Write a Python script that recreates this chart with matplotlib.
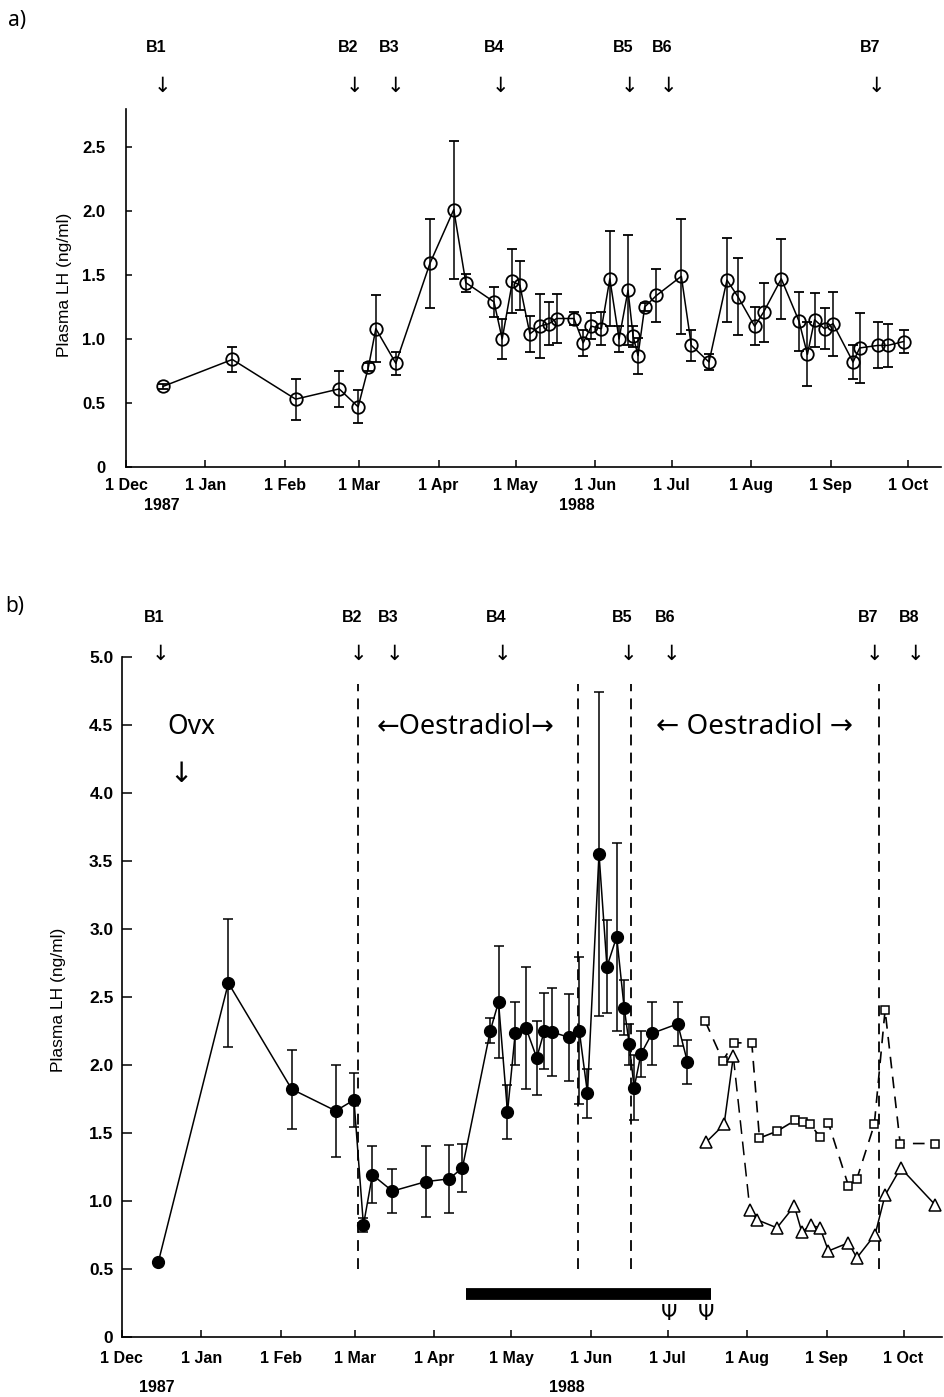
import matplotlib
matplotlib.use("Agg")
import matplotlib.pyplot as plt

# x values are days counted from 1 Dec 1987
month_days = [0, 31, 62, 91, 122, 152, 183, 213, 244, 275, 305]
month_labels = ["1 Dec", "1 Jan", "1 Feb", "1 Mar", "1 Apr", "1 May",
                "1 Jun", "1 Jul", "1 Aug", "1 Sep", "1 Oct"]

# (a) intact ewes, mean +/- sem
a_day = [14.5, 41.5, 66.2, 83.2, 90.6, 94.6, 97.5, 105.3, 118.6, 127.9, 132.6,
         143.6, 146.8, 150.8, 153.7, 157.6, 161.5, 165.1, 168.0, 174.8, 178.4,
         181.6, 185.5, 188.8, 192.4, 195.9, 197.9, 199.8, 202.4, 207.0, 216.7,
         220.6, 227.5, 234.5, 238.8, 245.3, 248.8, 255.7, 262.6, 265.9, 268.7,
         272.6, 275.9, 283.7, 286.3, 293.4, 297.3, 303.4]
a_lh = [0.63, 0.84, 0.53, 0.61, 0.47, 0.78, 1.08, 0.81, 1.59, 2.01, 1.44,
        1.29, 1.00, 1.45, 1.42, 1.04, 1.10, 1.12, 1.16, 1.16, 0.97,
        1.10, 1.08, 1.47, 1.00, 1.38, 1.02, 0.87, 1.25, 1.34, 1.49,
        0.95, 0.82, 1.46, 1.33, 1.10, 1.21, 1.47, 1.14, 0.88, 1.15,
        1.08, 1.12, 0.82, 0.93, 0.95, 0.95, 0.98]
a_sem = [0.02, 0.10, 0.16, 0.14, 0.13, 0.03, 0.26, 0.09, 0.35, 0.54, 0.07,
         0.12, 0.16, 0.25, 0.19, 0.14, 0.25, 0.17, 0.19, 0.05, 0.10,
         0.10, 0.13, 0.37, 0.10, 0.43, 0.08, 0.14, 0.03, 0.21, 0.45,
         0.12, 0.06, 0.33, 0.30, 0.15, 0.23, 0.31, 0.23, 0.25, 0.21,
         0.16, 0.25, 0.13, 0.27, 0.18, 0.17, 0.09]
a_bleed_days = [14.4, 89.3, 105.3, 146.2, 196.5, 211.8, 292.9]
a_bleed_names = ["B1", "B2", "B3", "B4", "B5", "B6", "B7"]

# (b) ovariectomised ewes, mean +/- sem
b_day = [14.3, 41.6, 66.3, 83.5, 90.6, 94.3, 97.8, 105.6, 118.7, 127.7, 132.9,
         143.8, 147.0, 150.5, 153.5, 157.7, 161.9, 164.9, 167.8, 174.6, 178.5,
         181.7, 186.2, 189.3, 193.1, 196.0, 198.0, 199.9, 202.6, 206.9, 216.9,
         220.7]
b_lh = [0.55, 2.60, 1.82, 1.66, 1.74, 0.82, 1.19, 1.07, 1.14, 1.16, 1.24,
        2.25, 2.46, 1.65, 2.23, 2.27, 2.05, 2.25, 2.24, 2.20, 2.25,
        1.79, 3.55, 2.72, 2.94, 2.42, 2.15, 1.83, 2.08, 2.23, 2.30,
        2.02]
b_sem = [0.0, 0.47, 0.29, 0.34, 0.20, 0.05, 0.21, 0.16, 0.26, 0.25, 0.18,
         0.09, 0.41, 0.20, 0.23, 0.45, 0.27, 0.28, 0.32, 0.32, 0.54,
         0.18, 1.19, 0.34, 0.69, 0.20, 0.15, 0.24, 0.17, 0.23, 0.16,
         0.16]

# individual animals after treatment
sq_day = [227.6, 234.5, 238.9, 245.8, 248.8, 255.6, 262.7, 265.7, 268.6,
          272.4, 275.7, 283.5, 286.8, 293.6, 297.8, 303.7, 317.3]
sq_lh = [2.32, 2.03, 2.16, 2.16, 1.46, 1.51, 1.59, 1.58, 1.56,
         1.47, 1.57, 1.11, 1.16, 1.56, 2.40, 1.42, 1.42]
tri_day = [228.0, 235.0, 238.6, 245.1, 247.8, 255.6, 262.4, 265.3, 268.9,
           272.4, 275.7, 283.5, 286.8, 293.9, 297.8, 303.9, 317.3]
tri_lh = [1.43, 1.56, 2.06, 0.93, 0.86, 0.80, 0.96, 0.77, 0.82,
          0.80, 0.63, 0.69, 0.58, 0.75, 1.04, 1.24, 0.97]

b_bleed_days = [15.3, 92.3, 106.3, 148.6, 197.7, 214.6, 293.6, 309.5]
b_bleed_names = ["B1", "B2", "B3", "B4", "B5", "B6", "B7", "B8"]
implant_days = [92.3, 178.1, 198.6, 295.5]
treatment_span = [134.2, 229.8]
psi_days = [213.3, 227.9]

TICK_FONT = ["Liberation Sans", "DejaVu Sans"]
NOTE_FONT = ["Noto Sans", "DejaVu Sans"]


def style_axis(ax, xmax, ymax, yticks, ytick_labels, xpad, ypad, ylen, ysize):
    ax.set_xlim(0, xmax)
    ax.set_ylim(0, ymax)
    for side in ("top", "right"):
        ax.spines[side].set_visible(False)
    for side in ("left", "bottom"):
        ax.spines[side].set_linewidth(1.2)
    ax.set_xticks(month_days)
    ax.set_xticklabels(month_labels, family=TICK_FONT, fontsize=11.5,
                       fontweight="bold")
    ax.set_yticks(yticks)
    ax.set_yticklabels(ytick_labels, family=TICK_FONT, fontsize=ysize,
                       fontweight="bold")
    ax.tick_params(axis="x", direction="in", length=5, width=1.1, pad=xpad)
    ax.tick_params(axis="y", direction="in", length=ylen, width=1.1, pad=ypad)
    ax.set_ylabel("Plasma LH (ng/ml)", family=TICK_FONT, fontsize=12.5)


def bleed_marks(ax, days, names, y_label, y_arrow):
    for d, name in zip(days, names):
        ax.text(d - 2.5, y_label, name, family=TICK_FONT, fontsize=11.5,
                fontweight="bold", ha="center", va="center", clip_on=False)
        ax.text(d, y_arrow, "\u2193", family=["DejaVu Sans"], fontsize=15,
                ha="center", va="center", clip_on=False)


def year_labels(ax, xs, y):
    xt = ax.get_xaxis_transform()
    for x, label in zip(xs, ["1987", "1988"]):
        ax.text(x, y, label, transform=xt, family=TICK_FONT, fontsize=11.5,
                fontweight="bold", ha="center", va="center")


fig = plt.figure(figsize=(9.45, 13.97), dpi=100)

# ---- panel a ----
ax_a = fig.add_axes([0.1333, 0.6657, 0.8624, 0.2566])
style_axis(ax_a, 318, 2.8, [0, 0.5, 1.0, 1.5, 2.0, 2.5],
           ["0", "0.5", "1.0", "1.5", "2.0", "2.5"],
           xpad=8, ypad=15, ylen=4, ysize=12)
ax_a.errorbar(a_day, a_lh, yerr=a_sem, fmt="-o", color="black", lw=1.1,
              ms=9, mfc="none", mew=1.3, ecolor="black", elinewidth=1.1,
              capsize=3.5, capthick=1.1)
ax_a.yaxis.set_label_coords(-0.066, 0.508)
bleed_marks(ax_a, a_bleed_days, a_bleed_names, 3.28, 2.98)
year_labels(ax_a, [14, 176], -0.106)
fig.text(0.008, 0.985, "a)", family=NOTE_FONT, fontsize=15, va="center")

# ---- panel b ----
ax_b = fig.add_axes([0.1288, 0.0432, 0.868, 0.4868])
yt = [0, 0.5, 1.0, 1.5, 2.0, 2.5, 3.0, 3.5, 4.0, 4.5, 5.0]
style_axis(ax_b, 320, 5.0, yt, ["0"] + [f"{v:.1f}" for v in yt[1:]],
           xpad=10, ypad=6, ylen=7, ysize=12.5)
ax_b.yaxis.set_label_coords(-0.068, 0.495)

ax_b.vlines(implant_days, 0.5, 4.8, colors="black", linestyles=(0, (6, 4)),
            lw=1.3)
ax_b.errorbar(b_day, b_lh, yerr=b_sem, fmt="-o", color="black", lw=1.1,
              ms=8.5, mfc="black", ecolor="black", elinewidth=1.1,
              capsize=3.5, capthick=1.1, zorder=3)

ax_b.plot(sq_day, sq_lh, color="black", lw=1.2, ls=(0, (7, 5)),
          marker="s", ms=5.5, mfc="white", mew=1.1)
ax_b.plot(tri_day[:3], tri_lh[:3], color="black", lw=1.1)
ax_b.plot(tri_day[2:4], tri_lh[2:4], color="black", lw=1.1, ls=(0, (9, 5)))
ax_b.plot(tri_day[3:], tri_lh[3:], color="black", lw=1.1)
ax_b.plot(tri_day, tri_lh, ls="none", marker="^", ms=8.5, mfc="white",
          mec="black", mew=1.1, zorder=4)

# treatment bar and the two Psi markers below it
ax_b.hlines(0.31, treatment_span[0], treatment_span[1], colors="black",
            lw=8.5, capstyle="butt")
for d in psi_days:
    ax_b.text(d, 0.17, "\u03a8", family=["DejaVu Sans"], fontsize=15,
              ha="center", va="center")

bleed_marks(ax_b, b_bleed_days, b_bleed_names, 5.29, 5.02)
ax_b.text(27.2, 4.48, "Ovx", family=NOTE_FONT, fontsize=19,
          ha="center", va="center")
ax_b.text(23.1, 4.14, "\u2193", family=["DejaVu Sans"], fontsize=20,
          ha="center", va="center")
ax_b.text(134.3, 4.48, "\u2190Oestradiol\u2192", family=NOTE_FONT,
          fontsize=19.5, ha="center", va="center")
ax_b.text(246.7, 4.48, "\u2190 Oestradiol \u2192", family=NOTE_FONT,
          fontsize=20, ha="center", va="center")

year_labels(ax_b, [13.8, 173.7], -0.075)
fig.text(0.006, 0.566, "b)", family=NOTE_FONT, fontsize=15, va="center")

fig.savefig("out.png", dpi=100)
